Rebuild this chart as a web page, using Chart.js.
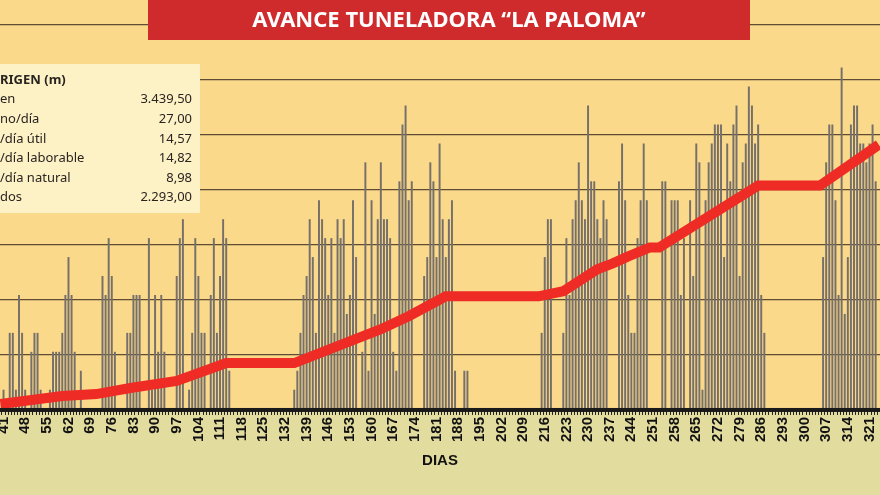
<!DOCTYPE html>
<html>
<head>
<meta charset="utf-8">
<script src="https://cdn.jsdelivr.net/npm/chart.js@4/dist/chart.umd.min.js"></script>
<style>
  body { margin: 0; background: #e3dc9f; overflow: hidden; }
</style>
</head>
<body>
<canvas id="chart-area" width="880" height="495"></canvas>
<script>
// daily advance, in rings of 1.5 m, starting at day 40
var firstDay = 40;
var ringLength = 1.5;
var dailyRings = [
  0,1,0,4,4,1,6,4,1,0, 3,4,4,1,0,0,1,3,3,3, 4,6,8,6,3,0,2,0,0,0,  // 40-69
  0,0,0,7,6,9,7,3,0,0, 0,4,4,6,6,6,0,0,9,1, 6,3,6,3,0,0,0,7,9,10, // 70-99
  0,1,4,9,7,4,4,0,6,9, 4,7,10,9,2,0,0,0,0,0, 0,0,0,0,0,0,0,0,0,0, // 100-129
  0,0,0,0,0,1,2,4,6,7, 10,8,4,11,10,9,6,9,4,10, 9,10,5,6,11,8,0,3,13,2, // 130-159
  11,5,10,13,10,10,9,3,2,12, 15,16,11,12,0,0,0,7,8,13, 12,8,14,10,8,10,11,2,0,0, // 160-189
  2,2,0,0,0,0,0,0,0,0, 0,0,0,0,0,0,0,0,0,0, 0,0,0,0,0,4,8,10,10,0, // 190-219
  0,0,4,9,6,10,11,13,11,10, 16,12,12,10,9,11,10,0,0,0, 12,14,11,6,4,4,9,11,14,11, // 220-249
  0,0,0,0,12,12,0,11,11,11, 6,9,0,11,7,14,13,1,11,13, 14,15,15,15,8,14,12,15,16,7, // 250-279
  13,14,17,16,14,15,6,4,0,0, 0,0,0,0,0,0,0,0,0,0, 0,0,0,0,0,0,8,13,15,15, // 280-309
  11,6,18,5,8,15,16,16,14,14, 13,14,15,12 // 310-323
];
// cumulative advance from origin (m), read at the bends of the red line
var cumDays = [40, 60, 71, 82, 97, 113, 135, 163, 172, 184, 214, 222, 233, 238, 243, 250, 253, 285, 305, 324];
var cumMeters = [45, 118, 136, 191, 255, 418, 418, 727, 845, 1027, 1027, 1073, 1273, 1327, 1391, 1473, 1473, 2036, 2036, 2409];
var dayTicks = [];
for (var d = 41; d <= 321; d += 7) dayTicks.push(d);

var summaryLabels = ['RIGEN (m)', 'en', 'no/día', '/día útil', '/día laborable', '/día natural', 'dos'];
var summaryValues = ['', '3.439,50', '27,00', '14,57', '14,82', '8,98', '2.293,00'];

var barData = dailyRings.map(function (r, i) { return { x: firstDay + i, y: r * ringLength }; });
var lineData = cumDays.map(function (d, i) { return { x: d, y: cumMeters[i] }; });

var decor = {
  id: 'decor',
  beforeDraw: function (chart) {
    var c = chart.ctx, a = chart.chartArea;
    c.save();
    c.fillStyle = '#e3dc9f';
    c.fillRect(0, 0, chart.width, chart.height);
    c.fillStyle = '#fad98b';
    c.fillRect(a.left, 0, a.right - a.left, a.bottom);
    c.restore();
  },
  afterDraw: function (chart) {
    var c = chart.ctx, a = chart.chartArea;
    c.save();
    // axis bar
    c.fillStyle = '#1a1a1a';
    c.fillRect(a.left, a.bottom - 1, a.right - a.left, 4);
    // title bar
    c.fillStyle = '#cf2a2c';
    c.fillRect(148, 0, 602, 40);
    c.fillStyle = '#ffffff';
    c.font = 'bold 22px "Noto Sans"';
    c.textAlign = 'center';
    c.textBaseline = 'middle';
    c.fillText('AVANCE TUNELADORA \u201cLA PALOMA\u201d', 449, 21);
    // summary box
    c.fillStyle = '#fdf1c6';
    c.fillRect(0, 64, 200, 149);
    c.fillStyle = '#2a2420';
    c.textBaseline = 'middle';
    for (var i = 0; i < summaryLabels.length; i++) {
      var y = 80 + i * 19.6;
      c.font = (i === 0 ? 'bold ' : '') + '13px "Noto Sans"';
      c.textAlign = 'left';
      c.fillText(summaryLabels[i], 0, y);
      c.textAlign = 'right';
      c.fillText(summaryValues[i], 192, y);
    }
    c.restore();
  }
};

var ctx = document.getElementById('chart-area').getContext('2d');
var myChart = new Chart(ctx, {
  data: {
    datasets: [{
      type: 'line',
      data: lineData,
      yAxisID: 'yCum',
      borderColor: '#ef2b25',
      borderWidth: 10,
      pointRadius: 0,
      tension: 0,
      order: 0
    }, {
      type: 'bar',
      data: barData,
      yAxisID: 'yDay',
      backgroundColor: '#77706a',
      barThickness: 1.3,
      order: 1
    }]
  },
  plugins: [decor],
  options: {
    responsive: false,
    animation: false,
    layout: { padding: { top: 25, left: 0, right: 0, bottom: 0 } },
    plugins: { legend: { display: false }, tooltip: { enabled: false } },
    scales: {
      x: {
        type: 'linear',
        min: 40.36,
        max: 323.9,
        afterBuildTicks: function (axis) {
          var t = [];
          for (var d = 41; d <= 323; d++) t.push({ value: d });
          axis.ticks = t;
        },
        afterFit: function (axis) {
          axis.paddingLeft = 0;
          axis.paddingRight = 0;
        },
        ticks: {
          autoSkip: false,
          maxRotation: 90,
          minRotation: 90,
          padding: 2,
          color: '#111',
          font: { family: 'Liberation Sans', weight: 'bold', size: 15 },
          callback: function (v) { return dayTicks.indexOf(v) >= 0 ? String(v) : ''; }
        },
        grid: { drawOnChartArea: false, color: '#222', tickLength: 6 },
        border: { display: false },
        title: {
          display: true,
          text: 'DIAS',
          color: '#111',
          font: { family: 'Liberation Sans', weight: 'bold', size: 15 },
          padding: { top: 8, bottom: 25 }
        }
      },
      yCum: {
        position: 'left',
        min: 0,
        max: 3500,
        ticks: { display: false, stepSize: 500 },
        grid: { color: '#5e4d34', lineWidth: 1.2, drawTicks: false },
        border: { display: false }
      },
      yDay: {
        position: 'right',
        min: 0,
        max: 30.4,
        display: false
      }
    }
  }
});
</script>
</body>
</html>
